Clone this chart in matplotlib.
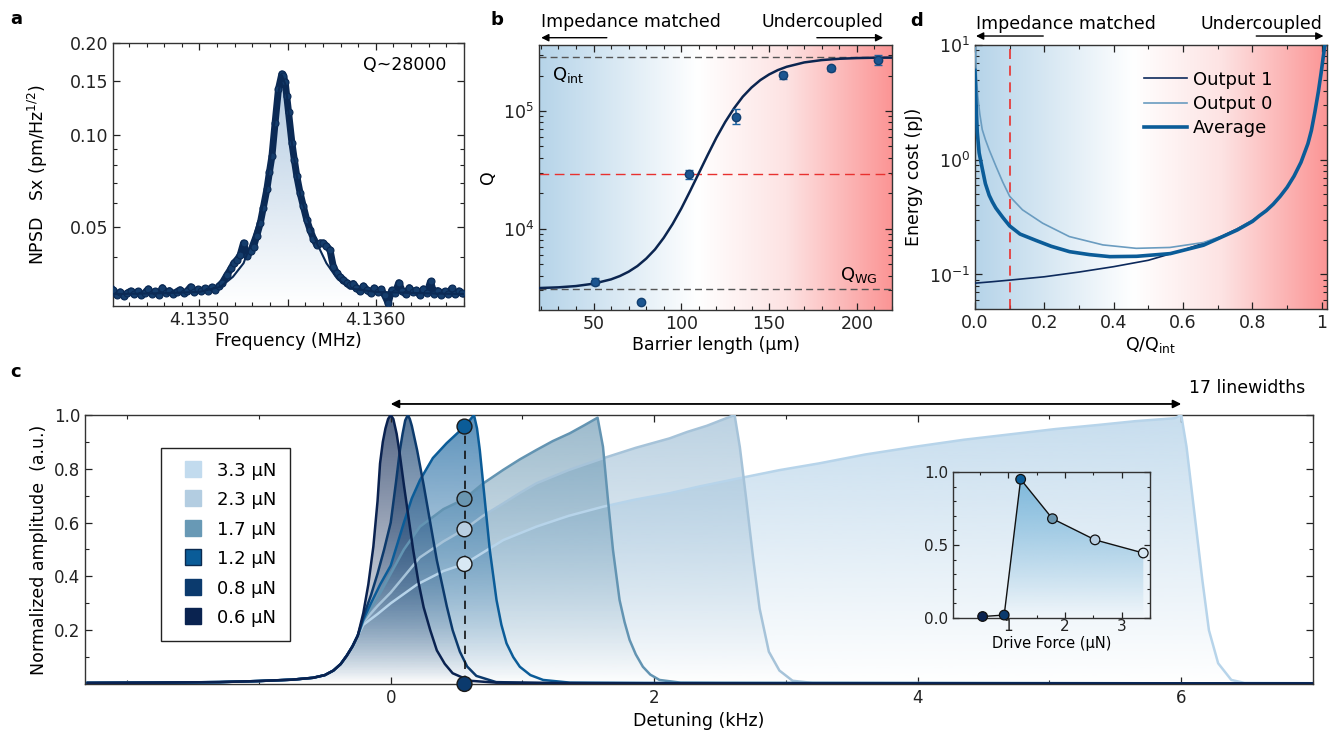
import numpy as np
import matplotlib
matplotlib.use("Agg")
import matplotlib.pyplot as plt
from matplotlib import colors as mcolors
from matplotlib.colors import LinearSegmentedColormap
from matplotlib.ticker import MultipleLocator, NullFormatter
from matplotlib.lines import Line2D

plt.rcParams['font.family'] = ['DejaVu Sans']
plt.rcParams['mathtext.fontset'] = 'dejavusans'

# ---------------- panel a: NPSD spectrum (MHz, pm/Hz^1/2) ----------------
a_freq = [4.13451, 4.13453, 4.13455, 4.13457, 4.13459, 4.13461, 4.13463, 4.13465, 4.13467, 4.13469,
          4.13471, 4.13473, 4.13475, 4.13477, 4.13479, 4.13481, 4.13483, 4.13485, 4.13487, 4.13489,
          4.13491, 4.13493, 4.13495, 4.13497, 4.13499, 4.13501, 4.13503, 4.13505, 4.13507, 4.13509,
          4.13511, 4.13513, 4.135156, 4.13518, 4.135194, 4.135213, 4.13523, 4.13525, 4.135269, 4.13529,
          4.135307, 4.135325, 4.135345, 4.135362, 4.135382, 4.135397, 4.135411, 4.135429, 4.135448, 4.135467,
          4.135476, 4.135486, 4.135495, 4.135505, 4.135524, 4.135538, 4.135552, 4.13557, 4.135589, 4.135608,
          4.135627, 4.135646, 4.135665, 4.135684, 4.135702, 4.13572, 4.13574, 4.135759, 4.135778, 4.135797,
          4.135815, 4.135835, 4.135853, 4.135872,
          4.13589, 4.13591, 4.13593, 4.13595, 4.13597, 4.13599, 4.13601, 4.13603, 4.13605, 4.13607,
          4.13609, 4.13611, 4.13613, 4.13615, 4.13617, 4.13619, 4.13621, 4.13623, 4.13625, 4.13627,
          4.13629, 4.13631, 4.13633, 4.13635, 4.13637, 4.13639, 4.13641, 4.13643, 4.13645, 4.13647, 4.13649]
a_npsd = [0.0312, 0.0301, 0.0308, 0.0298, 0.0305, 0.0310, 0.0302, 0.0309, 0.0300, 0.0306,
          0.0315, 0.0304, 0.0309, 0.0301, 0.0318, 0.0306, 0.0311, 0.0303, 0.0308, 0.0313,
          0.0305, 0.0310, 0.0320, 0.0307, 0.0314, 0.0309, 0.0316, 0.0311, 0.0319, 0.0312,
          0.0322, 0.0330, 0.0350, 0.0368, 0.0382, 0.0392, 0.0405, 0.0445, 0.0402, 0.0418,
          0.0433, 0.0470, 0.0517, 0.0580, 0.0665, 0.0760, 0.0855, 0.1100, 0.1416, 0.1585,
          0.1560, 0.1490, 0.1340, 0.1190, 0.0946, 0.0830, 0.0735, 0.0650, 0.0586, 0.0530,
          0.0491, 0.0460, 0.0438, 0.0445, 0.0445, 0.0435, 0.0422, 0.0372, 0.0355, 0.0345,
          0.0338, 0.0330, 0.0324, 0.0328,
          0.0318, 0.0309, 0.0322, 0.0312, 0.0305, 0.0317, 0.0308, 0.0314, 0.0300, 0.0283,
          0.0312, 0.0306, 0.0330, 0.0310, 0.0302, 0.0318, 0.0307, 0.0312, 0.0300, 0.0315,
          0.0306, 0.0333, 0.0304, 0.0311, 0.0301, 0.0309, 0.0303, 0.0316, 0.0302, 0.0310, 0.0305]
a_fit_f = [4.13451, 4.13480, 4.13500, 4.13512, 4.13519, 4.13525, 4.135307, 4.135345, 4.135382, 4.13542,
           4.13545, 4.135467, 4.13549, 4.135505, 4.135524, 4.135552, 4.135571, 4.135608, 4.135665, 4.13572,
           4.13578, 4.13585, 4.13600, 4.13625, 4.13650]
a_fit_s = [0.0303, 0.0305, 0.0308, 0.0320, 0.0345, 0.0382, 0.0468, 0.0544, 0.0682, 0.1050,
           0.1400, 0.1570, 0.1450, 0.1190, 0.0946, 0.0735, 0.0640, 0.0544, 0.0445, 0.0382,
           0.0341, 0.0316, 0.0308, 0.0305, 0.0303]

# ---------------- panel b: Q vs barrier length ----------------
b_len = [51, 77, 104.6, 131.2, 158, 185, 212]
b_q = [3550, 2380, 28900, 89600, 201000, 231000, 271000]
b_err_lo = [220, 60, 2500, 11500, 13500, 10500, 25000]
b_err_hi = [240, 60, 2700, 13500, 14500, 11500, 27000]
b_fit_len = [19, 30, 40, 50, 60, 65, 70, 75, 80, 85, 90, 95, 100, 105, 110, 115, 120, 125, 130,
             135, 140, 145, 150, 155, 160, 170, 180, 190, 200, 210, 220]
b_fit_q = [3133, 3177, 3258, 3412, 3715, 3963, 4315, 4819, 5572, 6668, 8375, 10940, 14860, 20890,
           29720, 42270, 59430, 80720, 105400, 132400, 158500, 183200, 204600, 222900, 237700,
           258800, 271000, 278000, 281800, 283800, 284400]
q_int = 286000
q_wg = 3090
q_ref = 29000

# ---------------- panel d: energy cost ----------------
d_out1_x = [0.0, 0.05, 0.1, 0.2, 0.3, 0.4, 0.5, 0.6, 0.7, 0.756, 0.8]
d_out1_y = [0.0840, 0.0865, 0.0893, 0.0955, 0.105, 0.117, 0.133, 0.163, 0.207, 0.25, 0.296]
d_out0_x = [0.0015, 0.004, 0.008, 0.014, 0.021, 0.03, 0.041, 0.061, 0.08, 0.1, 0.137, 0.195,
            0.272, 0.369, 0.465, 0.562, 0.659, 0.736, 0.8]
d_out0_y = [9.5, 5.5, 3.6, 2.5, 1.83, 1.5, 1.22, 0.87, 0.64, 0.48, 0.366, 0.28,
            0.214, 0.181, 0.169, 0.172, 0.19, 0.229, 0.298]
d_avg_x = [0.0, 0.003, 0.0066, 0.012, 0.021, 0.03, 0.041, 0.05, 0.06, 0.08, 0.1, 0.13, 0.176,
           0.22, 0.273, 0.33, 0.389, 0.466, 0.563, 0.659, 0.756, 0.8]
d_avg_y = [6.0, 3.2, 1.75, 1.15, 0.84, 0.62, 0.49, 0.43, 0.38, 0.315, 0.265, 0.225, 0.198,
           0.176, 0.158, 0.149, 0.143, 0.144, 0.152, 0.18, 0.244, 0.29]
d_right_x = [0.82, 0.84, 0.86, 0.88, 0.9, 0.92, 0.94, 0.96, 0.97, 0.98, 0.99, 0.998, 1.004, 1.01]
d_right_y = [0.325, 0.36, 0.41, 0.48, 0.575, 0.72, 0.95, 1.38, 1.8, 2.6, 3.9, 5.7, 7.8, 10.5]
d_marker = 0.1

# ---------------- panel c: Duffing responses ----------------
wing_x = [-2.3, -1.8, -1.3, -1.0, -0.75, -0.59, -0.5, -0.435, -0.38, -0.334, -0.29, -0.25]
wing_y = [0.004, 0.005, 0.007, 0.011, 0.016, 0.023, 0.033, 0.05, 0.074, 0.105, 0.14, 0.18]
c06_x = [-0.208, -0.17, -0.132, -0.1, -0.081, -0.06, -0.04, -0.02, 0.0, 0.02, 0.045, 0.07, 0.1,
         0.135, 0.17, 0.21, 0.25, 0.3, 0.35, 0.41, 0.47, 0.6, 0.8, 1.5, 3.0, 7.0]
c06_y = [0.264, 0.37, 0.51, 0.68, 0.82, 0.9, 0.95, 0.985, 1.0, 0.985, 0.93, 0.85, 0.74,
         0.62, 0.5, 0.38, 0.285, 0.2, 0.125, 0.075, 0.04, 0.012, 0.005, 0.003, 0.002, 0.002]
c08_x = [-0.208, -0.15, -0.1, -0.05, 0.0, 0.04, 0.07, 0.09, 0.11, 0.13, 0.145, 0.16, 0.2, 0.25,
         0.3, 0.35, 0.39, 0.425, 0.47, 0.525, 0.58, 0.65, 0.8, 1.2, 3.0, 7.0]
c08_y = [0.25, 0.33, 0.41, 0.5, 0.6, 0.75, 0.87, 0.93, 0.98, 1.0, 0.985, 0.96, 0.87, 0.74,
         0.6, 0.46, 0.37, 0.29, 0.2, 0.12, 0.065, 0.03, 0.007, 0.003, 0.002, 0.002]
c12_x = [-0.208, -0.15, -0.08, 0.0, 0.05, 0.1, 0.16, 0.222, 0.32, 0.424, 0.56, 0.632, 0.655,
         0.676, 0.714, 0.752, 0.803, 0.84, 0.879, 0.93, 0.98, 1.06, 1.157, 1.36, 2.5, 7.0]
c12_y = [0.24, 0.3, 0.37, 0.44, 0.52, 0.6, 0.69, 0.758, 0.84, 0.895, 0.957, 1.0, 0.95,
         0.87, 0.684, 0.498, 0.312, 0.22, 0.151, 0.1, 0.064, 0.033, 0.015, 0.005, 0.003, 0.002]
c17_x = [-0.208, -0.1, 0.0, 0.1, 0.222, 0.4, 0.56, 0.7, 0.854, 0.98, 1.106, 1.23, 1.359, 1.47,
         1.57, 1.611, 1.649, 1.687, 1.737, 1.775, 1.813, 1.86, 1.914, 1.97, 2.04, 2.2, 7.0]
c17_y = [0.235, 0.32, 0.41, 0.5, 0.585, 0.65, 0.688, 0.745, 0.796, 0.835, 0.87, 0.903, 0.932, 0.962,
         0.99, 0.882, 0.684, 0.498, 0.312, 0.23, 0.164, 0.11, 0.064, 0.035, 0.015, 0.005, 0.002]
c23_x = [-0.208, -0.1, 0.0, 0.22, 0.4, 0.56, 0.7, 0.85, 0.98, 1.106, 1.35, 1.611, 1.86, 2.116,
         2.25, 2.4, 2.52, 2.61, 2.65, 2.70, 2.75, 2.80, 2.87, 2.95, 3.05, 3.2, 7.0]
c23_y = [0.23, 0.29, 0.34, 0.47, 0.53, 0.575, 0.625, 0.67, 0.71, 0.746, 0.795, 0.839, 0.878, 0.913,
         0.937, 0.96, 0.983, 1.0, 0.88, 0.68, 0.47, 0.28, 0.12, 0.05, 0.012, 0.004, 0.002]
c33_x = [-0.208, -0.1, 0.0, 0.2, 0.4, 0.56, 0.854, 1.106, 1.35, 1.611, 1.85, 2.116, 2.35, 2.647,
         2.95, 3.25, 3.6, 3.98, 4.35, 4.77, 5.05, 5.37, 5.65, 5.95, 6.0, 6.04, 6.1, 6.16, 6.21,
         6.28, 6.38, 6.48, 7.0]
c33_y = [0.22, 0.26, 0.3, 0.37, 0.42, 0.446, 0.535, 0.585, 0.625, 0.659, 0.685, 0.709, 0.735, 0.765,
         0.795, 0.82, 0.853, 0.882, 0.908, 0.932, 0.948, 0.963, 0.977, 0.988, 1.0, 0.882, 0.635,
         0.387, 0.2, 0.077, 0.015, 0.004, 0.003]
c_labels = ['3.3 μN', '2.3 μN', '1.7 μN', '1.2 μN', '0.8 μN', '0.6 μN']
c_dot_x = 0.56
c_dot_y = [0.957, 0.688, 0.575, 0.446, 0.0]
arrow_from, arrow_to = 0.0, 6.0

# inset: amplitude at fixed detuning vs drive force
in_force = [0.55, 0.93, 1.22, 1.78, 2.53, 3.38]
in_amp = [0.01, 0.02, 0.95, 0.68, 0.535, 0.445]

# colours
navy = '#0b2a55'
c_edge = ['#b7d4ea', '#a6c3d9', '#6394b2', '#0b5c98', '#0c3a6c', '#0a2250']
c_fill = ['#b9d5ea', '#9fbfd6', '#5f90ad', '#1a66a0', '#0d3b6c', '#0a2452']
c_alpha = [0.8, 0.7, 0.62, 0.72, 0.7, 0.7]
c_patch = ['#c2dbee', '#b3cde1', '#6899b5', '#0a5c98', '#0b3a6d', '#0a2350']
dot_cols = ['#0b5c98', '#6a96b0', '#b9cfe2', '#d8e8f4', '#0b3a6d']
in_cols = ['#0a2350', '#0b3a6d', '#0b5c98', '#6a96b0', '#b9cfe2', '#d8e8f4']
bg_cmap = LinearSegmentedColormap.from_list(
    'bg', [(0, '#b6d4e9'), (0.45, '#ffffff'), (0.7, '#fde3e3'), (1, '#fb9595')])


def style(ax, fs=12.5):
    ax.tick_params(which='both', direction='in', top=True, right=True, labelsize=fs,
                   colors='#222')
    ax.tick_params(which='major', length=5, width=0.9)
    ax.tick_params(which='minor', length=3, width=0.8)
    for s in ax.spines.values():
        s.set_linewidth(1.0)
        s.set_color('#333')


def grad_fill(ax, x, y, y0, rgb, a_top, z=1):
    xs = np.concatenate([[x[0]], x, [x[-1]]])
    ys = np.concatenate([[y0], y, [y0]])
    patch = ax.fill(xs, ys, facecolor='none', edgecolor='none', zorder=z)[0]
    img = np.zeros((256, 1, 4))
    img[..., :3] = mcolors.to_rgb(rgb)
    img[..., 3] = np.linspace(0, a_top, 256)[:, None]
    im = ax.imshow(img, extent=[0, 1, 0, 1], transform=ax.transAxes, origin='lower',
                   aspect='auto', zorder=z, interpolation='bilinear')
    im.set_clip_path(patch)


def background(ax):
    img = np.linspace(0, 1, 256)[None, :]
    ax.imshow(img, cmap=bg_cmap, extent=[0, 1, 0, 1], transform=ax.transAxes,
              aspect='auto', zorder=0)


def top_arrows(ax, left_txt, right_txt, ty, ay, l_tail, r_tail, l_head, r_head, r_edge):
    ax.text(l_head, ty, left_txt, transform=ax.transAxes, ha='left', va='center', fontsize=12.5)
    ax.text(r_edge, ty, right_txt, transform=ax.transAxes, ha='right', va='center', fontsize=12.5)
    kw = dict(arrowstyle='-|>', color='k', lw=1, mutation_scale=11, shrinkA=0, shrinkB=0)
    ax.annotate('', xy=(l_head, ay), xytext=(l_tail, ay), xycoords='axes fraction',
                arrowprops=kw, annotation_clip=False)
    ax.annotate('', xy=(r_head, ay), xytext=(r_tail, ay), xycoords='axes fraction',
                arrowprops=kw, annotation_clip=False)


fig = plt.figure(figsize=(13.33, 7.40), dpi=100)
ax_a = fig.add_axes([0.0848, 0.5865, 0.2633, 0.3554])
ax_b = fig.add_axes([0.4044, 0.5811, 0.2648, 0.3581])
ax_d = fig.add_axes([0.7314, 0.5824, 0.2641, 0.3568])
ax_c = fig.add_axes([0.0638, 0.0757, 0.9212, 0.3635])
ax_in = fig.add_axes([0.7150, 0.1649, 0.1478, 0.1973])

# ---- a ----
ax_a.set_yscale('log')
ax_a.set_xlim(4.13451, 4.13650)
ax_a.set_ylim(0.0277, 0.2)
grad_fill(ax_a, a_fit_f, a_fit_s, 0.0277, '#a9c4de', 1.0, z=1)
ax_a.plot(a_freq, a_npsd, '-', color=navy, lw=5, solid_joinstyle='round', zorder=3)
ax_a.plot(a_freq, a_npsd, 'o', ms=5, mfc='#153d6c', mec=navy, mew=0.8, zorder=4)
ax_a.plot(a_fit_f, a_fit_s, '-', color=navy, lw=1.5, zorder=5)
ax_a.set_xticks([4.1350, 4.1355, 4.1360], ['4.1350', '', '4.1360'])
ax_a.xaxis.set_minor_locator(MultipleLocator(0.0001))
ax_a.set_yticks([0.05, 0.10, 0.15, 0.20], ['0.05', '0.10', '0.15', '0.20'])
ax_a.set_yticks([0.03, 0.04, 0.06, 0.07, 0.08, 0.09], minor=True)
ax_a.yaxis.set_minor_formatter(NullFormatter())
ax_a.set_xlim(4.13451, 4.13650)
ax_a.set_ylim(0.0277, 0.2)
style(ax_a)
ax_a.set_xlabel('Frequency (MHz)', fontsize=12.5, labelpad=2)
ax_a.set_ylabel('NPSD   Sx (pm/Hz$^{1/2}$)', fontsize=12.5, labelpad=14)
ax_a.text(0.949, 0.916, 'Q~28000', transform=ax_a.transAxes, ha='right', va='center',
          fontsize=12.5)

# ---- b ----
ax_b.set_yscale('log')
ax_b.set_xlim(19, 220)
ax_b.set_ylim(2040, 3.64e5)
background(ax_b)
ax_b.axhline(q_int, color='#555', lw=1, dashes=(5, 3), zorder=2)
ax_b.axhline(q_wg, color='#555', lw=1, dashes=(5, 3), zorder=2)
ax_b.axhline(q_ref, color='#e8312f', lw=1, dashes=(7, 4), zorder=2)
ax_b.plot(b_fit_len, b_fit_q, color='#0b2550', lw=1.8, zorder=3)
ax_b.errorbar(b_len, b_q, yerr=[b_err_lo, b_err_hi], fmt='o', ms=6, color='#1f63a0',
              mfc='#1b5590', mec='#123f70', elinewidth=1.2, capsize=3, zorder=4)
ax_b.xaxis.set_minor_locator(MultipleLocator(10))
ax_b.set_xticks([50, 100, 150, 200])
ax_b.set_xlim(19, 220)
ax_b.set_ylim(2040, 3.64e5)
style(ax_b)
ax_b.set_xlabel('Barrier length (μm)', fontsize=12.5, labelpad=2)
ax_b.set_ylabel('Q', fontsize=12.5)
ax_b.text(0.036, 0.887, 'Q$_{\\mathrm{int}}$', transform=ax_b.transAxes, ha='left',
          va='center', fontsize=13)
ax_b.text(0.958, 0.132, 'Q$_{\\mathrm{WG}}$', transform=ax_b.transAxes, ha='right',
          va='center', fontsize=13)
top_arrows(ax_b, 'Impedance matched', 'Undercoupled', 1.088, 1.0275,
           0.192, 0.787, 0.006, 0.975, 0.975)

# ---- d ----
ax_d.set_yscale('log')
ax_d.set_xlim(0, 1.015)
ax_d.set_ylim(0.05, 10)
background(ax_d)
ax_d.axvline(d_marker, color='#e8312f', lw=1.2, dashes=(6, 4), zorder=2)
ax_d.plot(d_out1_x + d_right_x, d_out1_y + d_right_y, color='#0d2a5c', lw=1.2, zorder=3)
ax_d.plot(d_out0_x + d_right_x, d_out0_y + d_right_y, color='#6a9cc0', lw=1.2, zorder=3)
ax_d.plot(d_avg_x + d_right_x, d_avg_y + d_right_y, color='#0b5c98', lw=2.6, zorder=4)
ax_d.set_xticks([0, 0.2, 0.4, 0.6, 0.8, 1.0], ['0.0', '0.2', '0.4', '0.6', '0.8', '1'])
ax_d.xaxis.set_minor_locator(MultipleLocator(0.1))
ax_d.set_xlim(0, 1.015)
ax_d.set_ylim(0.05, 10)
style(ax_d)
ax_d.set_xlabel('Q/Q$_{\\mathrm{int}}$', fontsize=12.5, labelpad=2)
ax_d.set_ylabel('Energy cost (pJ)', fontsize=12.5)
d_handles = [Line2D([], [], color='#0d2a5c', lw=1.2), Line2D([], [], color='#6a9cc0', lw=1.2),
             Line2D([], [], color='#0b5c98', lw=2.6)]
ax_d.legend(d_handles, ['Output 1', 'Output 0', 'Average'], loc='upper left',
            bbox_to_anchor=(0.46, 0.93), frameon=False, fontsize=13, handlelength=2.4,
            handletextpad=0.3, labelspacing=0.35, borderaxespad=0)
top_arrows(ax_d, 'Impedance matched', 'Undercoupled', 1.08, 1.034,
           0.194, 0.799, 0.003, 0.990, 0.988)

# ---- c ----
ax_c.set_xlim(-2.32, 7.0)
ax_c.set_ylim(0, 1.0)
curves = [(c33_x, c33_y), (c23_x, c23_y), (c17_x, c17_y), (c12_x, c12_y),
          (c08_x, c08_y), (c06_x, c06_y)]
for i, (cx, cy) in enumerate(curves):
    xx = np.array(wing_x + cx)
    yy = np.array(wing_y + cy)
    grad_fill(ax_c, xx, yy, 0.0, c_fill[i], c_alpha[i], z=1 + i * 0.1)
for i, (cx, cy) in enumerate(curves):
    ax_c.plot(wing_x + cx, wing_y + cy, color=c_edge[i], lw=1.8, zorder=3 + i * 0.1,
              solid_joinstyle='round')
ax_c.plot([c_dot_x, c_dot_x], [min(c_dot_y), max(c_dot_y)], color='#111', lw=1.2,
          dashes=(5, 4), zorder=5)
ax_c.scatter([c_dot_x] * len(c_dot_y), c_dot_y, s=115, c=dot_cols, edgecolors='#1a1a1a',
             linewidths=1, zorder=6, clip_on=False)
ax_c.annotate('', xy=(arrow_from, 1.041), xytext=(arrow_to, 1.041), xycoords='data',
              arrowprops=dict(arrowstyle='<|-|>', color='k', lw=1.3, mutation_scale=12,
                              shrinkA=0, shrinkB=0), annotation_clip=False)
ax_c.text(arrow_to + 0.06, 1.10, '17 linewidths', ha='left', va='center', fontsize=12.5)
ax_c.set_xticks([0, 2, 4, 6])
ax_c.set_xticks([-2, -1, 1, 3, 5, 7], minor=True)
ax_c.set_yticks([0.2, 0.4, 0.6, 0.8, 1.0])
ax_c.set_yticks([0.1, 0.3, 0.5, 0.7, 0.9], minor=True)
ax_c.set_xlim(-2.32, 7.0)
ax_c.set_ylim(0, 1.0)
style(ax_c, fs=12)
ax_c.set_xlabel('Detuning (kHz)', fontsize=12.5)
ax_c.set_ylabel('Normalized amplitude  (a.u.)', fontsize=12.5)
c_handles = [Line2D([], [], ls='none', marker='s', ms=11.5, mfc=c_patch[i],
                    mec=('#0a2a50' if i == 3 else c_patch[i]), mew=1) for i in range(6)]
leg = ax_c.legend(c_handles, c_labels, loc='upper left', bbox_to_anchor=(0.0619, 0.877),
                  borderaxespad=0, fontsize=13, handlelength=2.0, handleheight=1.0,
                  labelspacing=0.62, handletextpad=0.35, borderpad=0.75, fancybox=False,
                  framealpha=1, edgecolor='#222')
leg.get_frame().set_linewidth(1.0)
leg.set_zorder(10)

# ---- inset ----
ax_in.set_facecolor('none')
ax_in.set_xlim(0.03, 3.5)
ax_in.set_ylim(0, 1.0)
grad_fill(ax_in, in_force, in_amp, 0.0, '#6aaed6', 0.85, z=1)
ax_in.plot(in_force, in_amp, color='#111', lw=1, zorder=3)
ax_in.scatter(in_force, in_amp, s=48, c=in_cols, edgecolors='#111', linewidths=0.9,
              zorder=4, clip_on=False)
ax_in.set_xticks([1, 2, 3])
ax_in.xaxis.set_minor_locator(MultipleLocator(0.5))
ax_in.set_yticks([0, 0.5, 1.0], ['0.0', '0.5', '1.0'])
ax_in.yaxis.set_minor_locator(MultipleLocator(0.1))
ax_in.set_xlim(0.03, 3.5)
ax_in.set_ylim(0, 1.0)
style(ax_in, fs=11)
ax_in.tick_params(which='major', length=4)
ax_in.tick_params(which='minor', length=2.5)
ax_in.tick_params(axis='x', pad=1)
ax_in.set_xlabel('Drive Force (μN)', fontsize=10.5, labelpad=1)
ax_in.set_zorder(12)

# panel letters
for lab, x, y in [('a', 0.008, 0.975), ('b', 0.368, 0.973), ('c', 0.008, 0.497),
                  ('d', 0.683, 0.972)]:
    fig.text(x, y, lab, fontsize=13, fontweight='bold', ha='left', va='center')

fig.savefig('out.png', dpi=100)
